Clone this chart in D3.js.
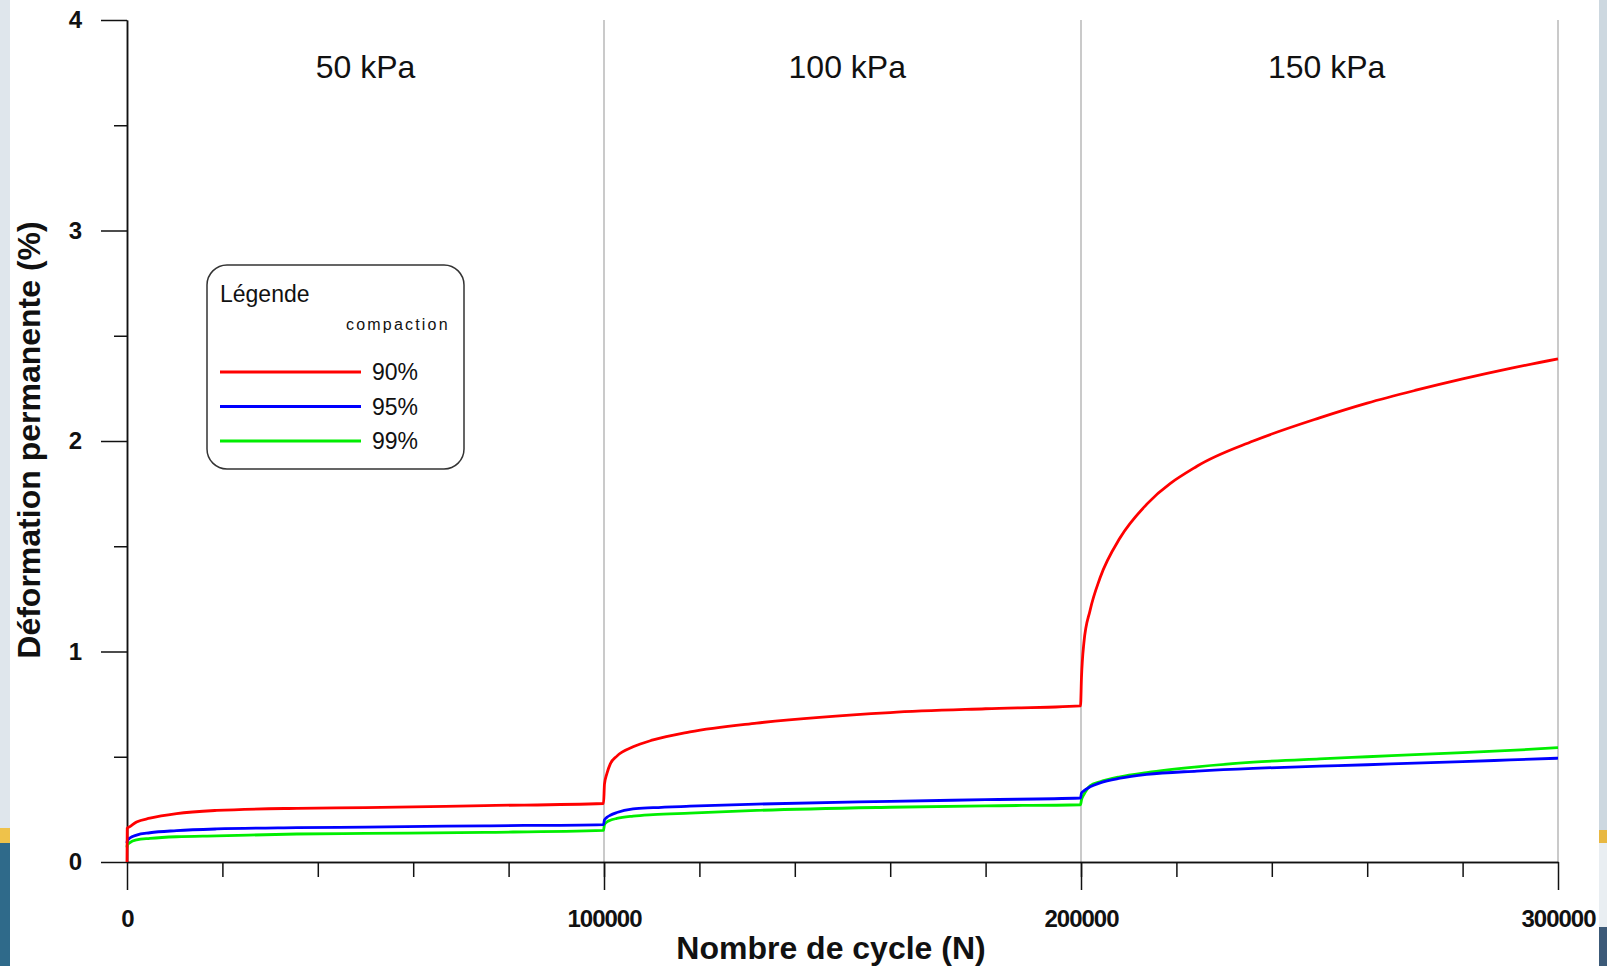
<!DOCTYPE html>
<html>
<head>
<meta charset="utf-8">
<script src="https://cdn.jsdelivr.net/npm/d3@7"></script>
<style>
	body { margin: 0; padding: 0; background: #ffffff; }
	svg { display: block; font-family: "Liberation Sans", Arial, sans-serif; }
</style>
</head>
<body>
<svg width="1607" height="966"></svg>
<script>
// nombre de cycles (N)
var cycles = [0, 50, 600, 2000, 4800, 10400, 18800, 35600, 50000, 75000, 99900,
	100100, 100600, 101300, 102700, 106100, 110300, 118000, 132000, 160000, 180000, 199900,
	200100, 200600, 201900, 204000, 208200, 213800, 224300, 236100, 250000, 260000, 270000, 280000, 290000, 300000];

// deformation permanente (%) for each compaction
var def90 = [0, 0.16, 0.168, 0.19, 0.208, 0.23, 0.245, 0.255, 0.258, 0.268, 0.278,
	0.37, 0.42, 0.465, 0.503, 0.547, 0.58, 0.618, 0.66, 0.71, 0.728, 0.742,
	0.877, 1.04, 1.195, 1.35, 1.54, 1.70, 1.88, 2.0, 2.11, 2.18, 2.24, 2.295, 2.345, 2.39];
var def95 = [0.09, 0.10, 0.114, 0.128, 0.139, 0.149, 0.157, 0.163, 0.166, 0.172, 0.178,
	0.20, 0.212, 0.222, 0.235, 0.252, 0.258, 0.265, 0.275, 0.288, 0.296, 0.304,
	0.327, 0.338, 0.357, 0.376, 0.398, 0.416, 0.432, 0.445, 0.455, 0.462, 0.47, 0.477, 0.485, 0.493];
var def99 = [0.07, 0.08, 0.092, 0.105, 0.112, 0.12, 0.124, 0.133, 0.136, 0.141, 0.15,
	0.178, 0.19, 0.198, 0.207, 0.218, 0.225, 0.232, 0.245, 0.26, 0.267, 0.272,
	0.295, 0.32, 0.362, 0.381, 0.405, 0.425, 0.452, 0.474, 0.49, 0.50, 0.51, 0.52, 0.53, 0.543];

var compactions = ["90%", "95%", "99%"];
var colors = ["#ff0000", "#0000ff", "#00ee00"];
var paliers = ["50 kPa", "100 kPa", "150 kPa"];
var palierCenters = [50000, 151000, 251500];

var xTicks = [0, 100000, 200000, 300000];
var yTicks = [0, 1, 2, 3, 4];

var layout = {left: 127, right: 1558, top: 20, bottom: 862};

var svg = d3.select("svg");

// background strips of the slide behind the chart
var deco = svg.append("g").attr("id", "deco");
deco.append("rect").attr("x", 0).attr("y", 0).attr("width", 10).attr("height", 828).attr("fill", "#dfe6ec");
deco.append("rect").attr("x", 0).attr("y", 828).attr("width", 10).attr("height", 15).attr("fill", "#efc24a");
deco.append("rect").attr("x", 0).attr("y", 843).attr("width", 10).attr("height", 123).attr("fill", "#2f6a8a");
deco.append("rect").attr("x", 1599).attr("y", 0).attr("width", 8).attr("height", 830).attr("fill", "#cdd8e0");
deco.append("rect").attr("x", 1599).attr("y", 830).attr("width", 8).attr("height", 13).attr("fill", "#e8b842");
deco.append("rect").attr("x", 1599).attr("y", 843).attr("width", 8).attr("height", 84).attr("fill", "#e9eef2");
deco.append("rect").attr("x", 1599).attr("y", 927).attr("width", 8).attr("height", 39).attr("fill", "#3c5a78");

var xScale = d3.scaleLinear()
				.domain([0, 300000])
				.range([layout.left, layout.right]);
var yScale = d3.scaleLinear()
				.domain([0, 4])
				.range([layout.bottom, layout.top]);

// vertical separators between the load levels
svg.append("g")
	.attr("id", "separators")
	.selectAll("line")
	.data([100000, 200000, 300000])
	.enter().append("line")
	.attr("x1", function(d){ return xScale(d); })
	.attr("x2", function(d){ return xScale(d); })
	.attr("y1", layout.top)
	.attr("y2", layout.bottom)
	.attr("stroke", "#bdbdbd")
	.attr("stroke-width", 1.6);

// load level labels
svg.append("g")
	.attr("id", "paliers")
	.selectAll("text")
	.data(paliers)
	.enter().append("text")
	.attr("x", function(d, i){ return xScale(palierCenters[i]); })
	.attr("y", 78)
	.attr("text-anchor", "middle")
	.attr("font-size", "32px")
	.attr("fill", "#111")
	.text(function(d){ return d; });

// minor ticks
var xMinor = svg.append("g")
				.attr("transform", "translate(0," + layout.bottom + ")")
				.call(d3.axisBottom(xScale)
					.tickValues(d3.range(20000, 300000, 20000))
					.tickSize(15)
					.tickSizeOuter(0)
					.tickFormat(""));
var yMinor = svg.append("g")
				.attr("transform", "translate(" + layout.left + ",0)")
				.call(d3.axisLeft(yScale)
					.tickValues([0.5, 1.5, 2.5, 3.5])
					.tickSize(13)
					.tickSizeOuter(0)
					.tickFormat(""));

// major ticks
var xAxis = svg.append("g")
				.attr("transform", "translate(0," + layout.bottom + ")")
				.call(d3.axisBottom(xScale)
					.tickValues(xTicks)
					.tickSize(28)
					.tickSizeOuter(0)
					.tickPadding(20)
					.tickFormat(d3.format("d")));
var yAxis = svg.append("g")
				.attr("transform", "translate(" + layout.left + ",0)")
				.call(d3.axisLeft(yScale)
					.tickValues(yTicks)
					.tickSize(26)
					.tickSizeOuter(0)
					.tickPadding(20)
					.tickFormat(d3.format("d")));

[xMinor, yMinor, xAxis, yAxis].forEach(function(g){
	g.selectAll("path, line").attr("stroke", "#111").attr("stroke-width", 1.5);
});
[xAxis, yAxis].forEach(function(g){
	g.selectAll("text")
		.attr("fill", "#111")
		.attr("font-size", "24px")
		.attr("font-weight", "bold")
		.attr("letter-spacing", "-1px");
});

// axis titles
svg.append("text")
	.attr("x", 831)
	.attr("y", 959)
	.attr("text-anchor", "middle")
	.attr("font-size", "32px")
	.attr("font-weight", "bold")
	.attr("fill", "#111")
	.text("Nombre de cycle (N)");
svg.append("text")
	.attr("transform", "translate(40,440) rotate(-90)")
	.attr("text-anchor", "middle")
	.attr("font-size", "32px")
	.attr("font-weight", "bold")
	.attr("fill", "#111")
	.text("Déformation permanente (%)");

// curves
var series = [def90, def95, def99];
var lineGenerator = d3.line()
					.x(function(d, i){ return xScale(cycles[i]); })
					.y(function(d){ return yScale(d); })
					.curve(d3.curveMonotoneX);

svg.append("g")
	.attr("id", "curves")
	.selectAll("path")
	.data([2, 1, 0])
	.enter().append("path")
	.attr("d", function(k){ return lineGenerator(series[k]); })
	.attr("fill", "none")
	.attr("stroke", function(k){ return colors[k]; })
	.attr("stroke-width", 2.8);

// legend
var legend = svg.append("g").attr("id", "legend");
legend.append("rect")
	.attr("x", 207)
	.attr("y", 265)
	.attr("width", 257)
	.attr("height", 204)
	.attr("rx", 20)
	.attr("fill", "#fff")
	.attr("stroke", "#333")
	.attr("stroke-width", 1.5);
legend.append("text")
	.attr("x", 220)
	.attr("y", 302)
	.attr("font-size", "23px")
	.attr("fill", "#111")
	.text("Légende");
legend.append("text")
	.attr("x", 346)
	.attr("y", 330)
	.attr("font-size", "16px")
	.attr("letter-spacing", "2.2px")
	.attr("fill", "#111")
	.text("compaction");
var items = legend.selectAll("g.item")
				.data(compactions)
				.enter().append("g")
				.attr("class", "item")
				.attr("transform", function(d, i){ return "translate(0," + (372 + i * 34.5) + ")"; });
items.append("line")
	.attr("x1", 220)
	.attr("x2", 361)
	.attr("stroke", function(d, i){ return colors[i]; })
	.attr("stroke-width", 2.8);
items.append("text")
	.attr("x", 372)
	.attr("y", 8)
	.attr("font-size", "23px")
	.attr("fill", "#111")
	.text(function(d){ return d; });
</script>
</body>
</html>
